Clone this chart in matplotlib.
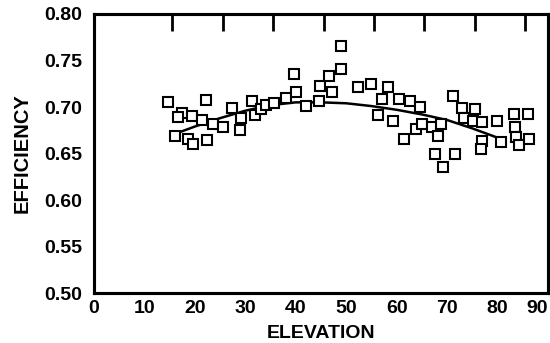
import matplotlib
matplotlib.use("Agg")
import matplotlib.pyplot as plt

plt.rcParams['font.family'] = ['Liberation Sans', 'DejaVu Sans']

elev = [14.7, 22.2, 17.4, 16.7, 19.5, 21.4, 23.6, 25.6, 27.3, 29.2, 28.9, 31.3,
        32.0, 33.2, 34.1, 35.7, 38.0, 40.0, 39.7, 42.0, 44.6, 44.9, 46.6, 47.1,
        48.9, 48.9, 16.0, 18.7, 19.7, 22.4,
        52.3, 54.9, 58.3, 57.0, 60.4, 62.6, 64.6, 56.3, 59.3, 61.4, 63.9, 65.1,
        67.1, 68.7, 68.2, 67.5, 69.2, 71.5, 71.1, 73.0, 75.6, 73.3, 75.1, 76.9,
        79.9, 77.0, 76.8, 80.7, 83.2, 86.1, 83.4, 83.7, 84.2, 86.3]
eff = [0.705, 0.708, 0.694, 0.689, 0.690, 0.686, 0.682, 0.679, 0.699, 0.688, 0.675, 0.706,
       0.691, 0.698, 0.702, 0.704, 0.710, 0.716, 0.735, 0.701, 0.706, 0.723, 0.733, 0.716,
       0.741, 0.766, 0.669, 0.666, 0.660, 0.665,
       0.721, 0.725, 0.722, 0.709, 0.709, 0.706, 0.700, 0.691, 0.685, 0.666, 0.676, 0.682,
       0.679, 0.682, 0.669, 0.650, 0.635, 0.649, 0.712, 0.699, 0.698, 0.688, 0.685, 0.684,
       0.685, 0.663, 0.655, 0.662, 0.693, 0.693, 0.679, 0.668, 0.659, 0.666]

fit_x = [17, 20, 25, 30, 35, 40, 45, 50, 55, 60, 65, 70, 75, 80]
fit_y = [0.673, 0.679, 0.688, 0.696, 0.702, 0.705, 0.705, 0.704, 0.701, 0.697,
         0.692, 0.686, 0.677, 0.667]

xticks = [0, 10, 20, 30, 40, 50, 60, 70, 80, 90]
xticklabels = ['0', '10', '20', '30', '40', '50', '60', '70', '80', '90']
yticks = [0.50, 0.55, 0.60, 0.65, 0.70, 0.75, 0.80]
yticklabels = ['0.50', '0.55', '0.60', '0.65', '0.70', '0.75', '0.80']
bottom_marks = [10, 20, 30, 40, 50, 60, 70, 80]
top_marks = [15.5, 25.5, 35.5, 45.5, 55.5, 65.5, 75.5, 85.5]
side_marks = [0.55, 0.60, 0.65, 0.70, 0.75]

fig = plt.figure(figsize=(5.5, 3.43), dpi=100)
ax = fig.add_axes([94/550, 1-293/343, (548-94)/550, (293-14)/343])

ax.plot(fit_x, fit_y, color='black', lw=1.8, zorder=2)
ax.plot(elev, eff, linestyle='none', marker='s', ms=7, mew=1.5,
        mfc='white', mec='black', zorder=3)

ax.set_xlim(0, 90)
ax.set_ylim(0.50, 0.80)

# labelled major ticks (no marks at the corners)
ax.set_xticks(xticks)
ax.set_xticklabels(xticklabels, fontweight='bold')
ax.set_yticks(yticks)
ax.set_yticklabels(yticklabels, fontweight='bold')
ax.tick_params(axis='both', which='major', length=0, labelsize=14)
ax.tick_params(axis='x', which='major', pad=5)
ax.tick_params(axis='y', which='major', pad=8.5)
ax.get_xticklabels()[-1].set_horizontalalignment('right')

# inward tick marks as minor ticks
ax.set_xticks(bottom_marks, minor=True)
ax.set_yticks(side_marks, minor=True)
ax.tick_params(axis='x', which='minor', direction='in', length=12,
               width=2.0, bottom=True, top=False, color='black')
ax.tick_params(axis='y', which='minor', direction='in', length=12,
               width=2.0, left=True, right=True, color='black')

# offset tick marks on the top edge
top = ax.twiny()
top.set_xlim(0, 90)
top.set_xticks(top_marks)
top.tick_params(axis='x', which='major', direction='in', length=12,
                width=2.0, top=True, bottom=False, labeltop=False,
                labelbottom=False, color='black')

for a in (ax, top):
    for s in a.spines.values():
        s.set_linewidth(2.2)

ax.set_xlabel('ELEVATION', fontsize=14, fontweight='bold', labelpad=6)
ax.set_ylabel('EFFICIENCY', fontsize=14.5, fontweight='bold', labelpad=9)

fig.savefig('out.png', dpi=100)
